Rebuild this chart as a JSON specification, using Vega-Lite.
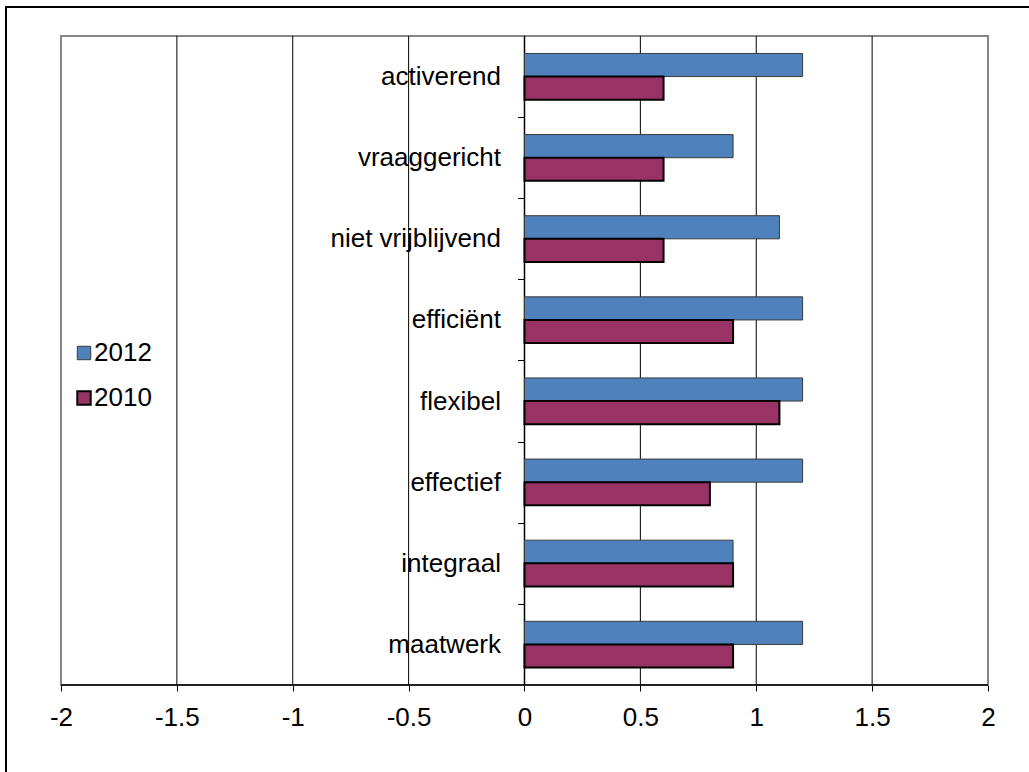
{
  "$schema": "https://vega.github.io/schema/vega-lite/v6.json",
  "width": 1023,
  "height": 765,
  "padding": {"left": 6, "top": 7, "right": 0, "bottom": 0},
  "autosize": {"type": "none"},
  "background": "white",
  "config": {
    "view": {"stroke": null},
    "font": "Liberation Sans"
  },
  "layer": [
    {
      "data": {"values": [{}]},
      "layer": [
        {
          "mark": {"type": "rect", "fill": "transparent", "stroke": "black", "strokeWidth": 2},
          "encoding": {
            "x": {"datum": -2.2373, "type": "quantitative", "scale": {"domain": [-2.2373, 2.1769], "nice": false, "zero": false}},
            "x2": {"datum": 2.4},
            "y": {"datum": 1.044685, "type": "quantitative", "scale": {"domain": [-0.134052, 1.044685], "nice": false, "zero": false}, "axis": null},
            "y2": {"datum": -0.25}
          }
        },
        {
          "mark": {"type": "rect", "fill": "transparent", "stroke": "#868686", "strokeWidth": 2},
          "encoding": {
            "x": {"datum": -2, "type": "quantitative", "scale": {"domain": [-2.2373, 2.1769], "nice": false, "zero": false}},
            "x2": {"datum": 2},
            "y": {"datum": 0, "type": "quantitative", "scale": {"domain": [-0.134052, 1.044685], "nice": false, "zero": false}, "axis": null},
            "y2": {"datum": 1}
          }
        },
        {
          "mark": {"type": "rule", "color": "black", "strokeWidth": 1},
          "encoding": {
            "x": {"datum": -1.5, "type": "quantitative", "scale": {"domain": [-2.2373, 2.1769], "nice": false, "zero": false}},
            "y": {"datum": 0, "type": "quantitative", "scale": {"domain": [-0.134052, 1.044685], "nice": false, "zero": false}, "axis": null},
            "y2": {"datum": 1}
          }
        },
        {
          "mark": {"type": "rule", "color": "black", "strokeWidth": 1},
          "encoding": {
            "x": {"datum": -1, "type": "quantitative", "scale": {"domain": [-2.2373, 2.1769], "nice": false, "zero": false}},
            "y": {"datum": 0, "type": "quantitative", "scale": {"domain": [-0.134052, 1.044685], "nice": false, "zero": false}, "axis": null},
            "y2": {"datum": 1}
          }
        },
        {
          "mark": {"type": "rule", "color": "black", "strokeWidth": 1},
          "encoding": {
            "x": {"datum": -0.5, "type": "quantitative", "scale": {"domain": [-2.2373, 2.1769], "nice": false, "zero": false}},
            "y": {"datum": 0, "type": "quantitative", "scale": {"domain": [-0.134052, 1.044685], "nice": false, "zero": false}, "axis": null},
            "y2": {"datum": 1}
          }
        },
        {
          "mark": {"type": "rule", "color": "black", "strokeWidth": 1.5},
          "encoding": {
            "x": {"datum": 0, "type": "quantitative", "scale": {"domain": [-2.2373, 2.1769], "nice": false, "zero": false}},
            "y": {"datum": 0, "type": "quantitative", "scale": {"domain": [-0.134052, 1.044685], "nice": false, "zero": false}, "axis": null},
            "y2": {"datum": 1}
          }
        },
        {
          "mark": {"type": "rule", "color": "black", "strokeWidth": 1},
          "encoding": {
            "x": {"datum": 0.5, "type": "quantitative", "scale": {"domain": [-2.2373, 2.1769], "nice": false, "zero": false}},
            "y": {"datum": 0, "type": "quantitative", "scale": {"domain": [-0.134052, 1.044685], "nice": false, "zero": false}, "axis": null},
            "y2": {"datum": 1}
          }
        },
        {
          "mark": {"type": "rule", "color": "black", "strokeWidth": 1},
          "encoding": {
            "x": {"datum": 1, "type": "quantitative", "scale": {"domain": [-2.2373, 2.1769], "nice": false, "zero": false}},
            "y": {"datum": 0, "type": "quantitative", "scale": {"domain": [-0.134052, 1.044685], "nice": false, "zero": false}, "axis": null},
            "y2": {"datum": 1}
          }
        },
        {
          "mark": {"type": "rule", "color": "black", "strokeWidth": 1},
          "encoding": {
            "x": {"datum": 1.5, "type": "quantitative", "scale": {"domain": [-2.2373, 2.1769], "nice": false, "zero": false}},
            "y": {"datum": 0, "type": "quantitative", "scale": {"domain": [-0.134052, 1.044685], "nice": false, "zero": false}, "axis": null},
            "y2": {"datum": 1}
          }
        },
        {
          "mark": {"type": "rule", "color": "black", "strokeWidth": 1.5},
          "encoding": {
            "x": {"datum": -2, "type": "quantitative", "scale": {"domain": [-2.2373, 2.1769], "nice": false, "zero": false}},
            "x2": {"datum": 2},
            "y": {"datum": 0, "type": "quantitative", "scale": {"domain": [-0.134052, 1.044685], "nice": false, "zero": false}, "axis": null}
          }
        }
      ]
    },
    {
      "data": {
        "values": [
          {"category": "activerend", "series": "2012", "value": 1.2},
          {"category": "activerend", "series": "2010", "value": 0.6},
          {"category": "vraaggericht", "series": "2012", "value": 0.9},
          {"category": "vraaggericht", "series": "2010", "value": 0.6},
          {"category": "niet vrijblijvend", "series": "2012", "value": 1.1},
          {"category": "niet vrijblijvend", "series": "2010", "value": 0.6},
          {"category": "efficiënt", "series": "2012", "value": 1.2},
          {"category": "efficiënt", "series": "2010", "value": 0.9},
          {"category": "flexibel", "series": "2012", "value": 1.2},
          {"category": "flexibel", "series": "2010", "value": 1.1},
          {"category": "effectief", "series": "2012", "value": 1.2},
          {"category": "effectief", "series": "2010", "value": 0.8},
          {"category": "integraal", "series": "2012", "value": 0.9},
          {"category": "integraal", "series": "2010", "value": 0.9},
          {"category": "maatwerk", "series": "2012", "value": 1.2},
          {"category": "maatwerk", "series": "2010", "value": 0.9}
        ]
      },
      "mark": {"type": "bar"},
      "encoding": {
        "y": {
          "field": "category",
          "type": "nominal",
          "sort": ["activerend", "vraaggericht", "niet vrijblijvend", "efficiënt", "flexibel", "effectief", "integraal", "maatwerk"],
          "scale": {"paddingInner": 0.43, "paddingOuter": 0.92995, "align": 0.3078},
          "axis": {
            "title": null,
            "orient": "left",
            "offset": -518.5,
            "domain": false,
            "grid": false,
            "tickBand": "center",
            "tickOffset": 40.56,
            "labelOffset": -40.56,
            "tickColor": "black",
            "tickSize": 7,
            "tickWidth": 1,
            "labelFont": "Liberation Sans",
            "labelFontSize": 26,
            "labelColor": "black",
            "labelPadding": 17,
            "labelAlign": "right",
            "labelBaseline": "middle"
          }
        },
        "yOffset": {"field": "series", "type": "nominal", "sort": ["2012", "2010"]},
        "x": {
          "field": "value",
          "type": "quantitative",
          "scale": {"domain": [-2.2373, 2.1769], "nice": false, "zero": false},
          "axis": {
            "title": null,
            "orient": "bottom",
            "offset": -87,
            "values": [-2, -1.5, -1, -0.5, 0, 0.5, 1, 1.5, 2],
            "domain": false,
            "grid": false,
            "tickColor": "black",
            "tickSize": 6,
            "tickWidth": 1,
            "labelFont": "Liberation Sans",
            "labelFontSize": 26,
            "labelColor": "black",
            "labelPadding": 13,
            "labelExpr": "'' + datum.value",
            "labelFlush": false,
            "labelOverlap": false
          }
        },
        "x2": {"datum": 0},
        "color": {
          "field": "series",
          "type": "nominal",
          "scale": {"domain": ["2012", "2010"], "range": ["#4F81BD", "#993366"]},
          "legend": {
            "title": null,
            "orient": "none",
            "legendX": 65,
            "legendY": 333,
            "direction": "vertical",
            "padding": 0,
            "symbolType": "square",
            "symbolSize": 180,
            "symbolStrokeColor": "black",
            "symbolStrokeWidth": 1.5,
            "labelFont": "Liberation Sans",
            "labelFontSize": 26,
            "labelColor": "black",
            "labelOffset": -3,
            "rowPadding": 19
          }
        },
        "stroke": {
          "field": "series",
          "type": "nominal",
          "scale": {"domain": ["2012", "2010"], "range": ["#3a3a3a", "#000000"]},
          "legend": null
        },
        "strokeWidth": {
          "field": "series",
          "type": "ordinal",
          "scale": {"domain": ["2012", "2010"], "range": [1, 2]},
          "legend": null
        }
      }
    }
  ],
  "resolve": {"scale": {"y": "independent"}, "axis": {"y": "independent"}}
}
